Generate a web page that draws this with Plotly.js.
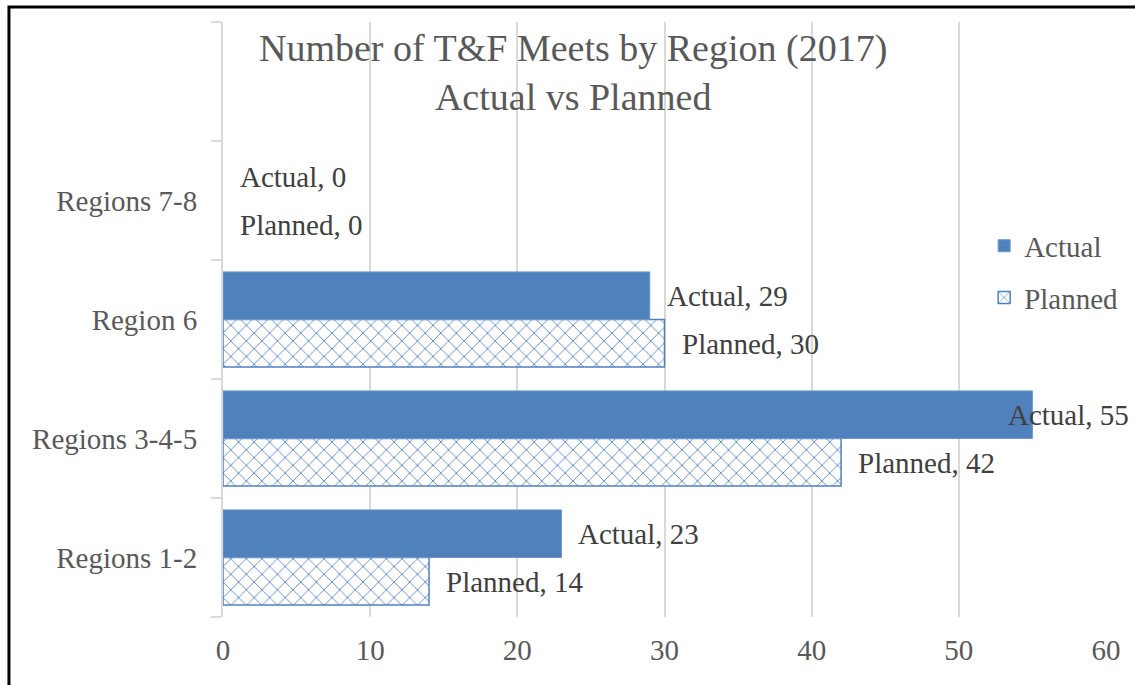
<!DOCTYPE html>
<html>
<head>
<meta charset="utf-8">
<script src="https://cdn.plot.ly/plotly-3.0.1.min.js"></script>
<style>html,body{margin:0;padding:0;background:#fff;}#chart{width:1135px;height:685px;}</style>
</head>
<body>
<div id="chart"></div>
<script>
// Data
const categories = ["Regions 1-2", "Regions 3-4-5", "Region 6", "Regions 7-8"];
const categoryOrder = ["Regions 1-2", "Regions 3-4-5", "Region 6", "Regions 7-8", " "];
const actualValues = [23, 55, 29, 0];
const plannedValues = [14, 42, 30, 0];
const seriesNames = ["Actual", "Planned"];
const xTicks = [0, 10, 20, 30, 40, 50, 60];

const BLUE = "#4F81BD";
const FONT = "Liberation Serif, Times New Roman, serif";

const planned = {
  type: "bar", orientation: "h", name: seriesNames[1],
  y: categories, x: plannedValues,
  marker: {
    color: "#ffffff",
    line: {color: BLUE, width: plannedValues.map(v => v > 0 ? 1.5 : 0)},
    pattern: {shape: "x", fgcolor: BLUE, bgcolor: "#ffffff", size: 11, solidity: 0.15}
  },
  legendrank: 2, legendgroup: "p", hoverinfo: "skip"
};
const actual = {
  type: "bar", orientation: "h", name: seriesNames[0],
  y: categories, x: actualValues,
  marker: {color: BLUE, line: {color: "#6f97c9", width: actualValues.map(v => v > 0 ? 1 : 0)}},
  legendrank: 1, legendgroup: "a", hoverinfo: "skip"
};

// Data labels built from the arrays
const annotations = [];
function addLabels(vals, name, yshift) {
  vals.forEach((v, i) => {
    annotations.push({
      x: v, y: categories[i], xref: "x", yref: "y",
      text: name + ", " + v, showarrow: false,
      xanchor: "left", yanchor: "middle",
      xshift: v > 50 ? -26 : 15, yshift: yshift,
      font: {family: FONT, size: 29, color: "#404040"}
    });
  });
}
addLabels(actualValues, seriesNames[0], 24);
addLabels(plannedValues, seriesNames[1], -24);

const layout = {
  width: 1135, height: 685,
  margin: {l: 223, r: 29, t: 22, b: 68},
  paper_bgcolor: "#ffffff", plot_bgcolor: "#ffffff",
  font: {family: FONT, size: 29, color: "#595959"},
  title: {
    text: "Number of T&F Meets by Region (2017)<br>Actual vs Planned",
    font: {family: FONT, size: 38, color: "#595959"},
    x: 0.505, xanchor: "center", y: 0.935, yanchor: "top", yref: "paper"
  },
  barmode: "group", bargap: 0.2, bargroupgap: 0,
  xaxis: {
    range: [0, 60], tickvals: xTicks, ticktext: xTicks.map(String),
    showgrid: true, gridcolor: "#d9d9d9", gridwidth: 2,
    zeroline: false, showline: false, ticks: "",
    ticklabelstandoff: 13,
    tickfont: {family: FONT, size: 29, color: "#595959"}
  },
  yaxis: {
    type: "category", categoryorder: "array", categoryarray: categoryOrder,
    range: [-0.5, 4.5], showgrid: false, zeroline: false,
    showline: true, linecolor: "#d9d9d9", linewidth: 2,
    ticks: "outside", tickson: "boundaries", ticklen: 10, tickcolor: "#d9d9d9", tickwidth: 2,
    ticklabelstandoff: 18,
    tickfont: {family: FONT, size: 29, color: "#595959"}
  },
  legend: {
    x: 0.862, xanchor: "left", y: 0.58, yanchor: "middle",
    font: {family: FONT, size: 29, color: "#595959"},
    bgcolor: "rgba(0,0,0,0)", tracegroupgap: 11, traceorder: "grouped"
  },
  annotations: annotations,
  shapes: [{
    type: "rect", xref: "paper", yref: "paper",
    x0: -0.2424, x1: 1.2, y0: -0.3, y1: 1.0252,
    line: {color: "#000000", width: 3}, layer: "above"
  }]
};

Plotly.newPlot("chart", [planned, actual], layout, {displayModeBar: false, staticPlot: true});
</script>
</body>
</html>
